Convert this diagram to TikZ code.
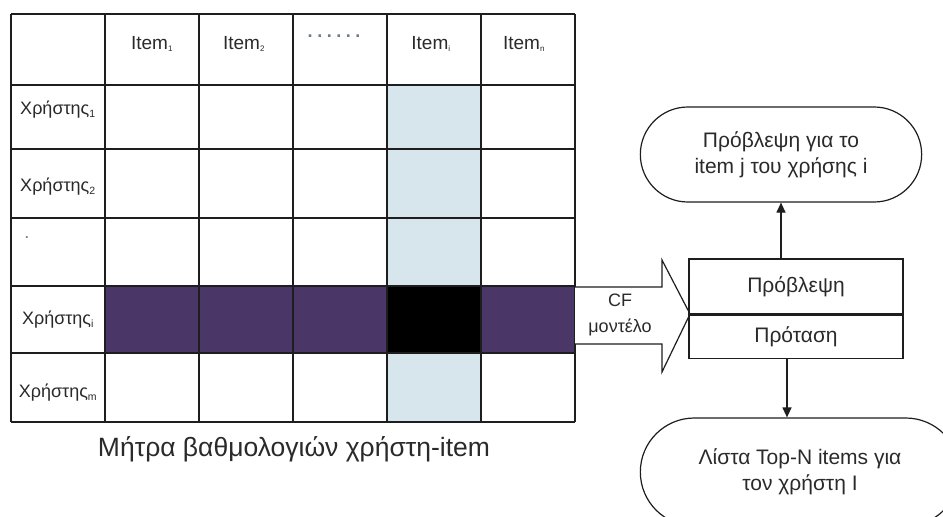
\documentclass[tikz,border=0pt]{standalone}
\usepackage{fontspec}
\setmainfont{Liberation Sans}
\usetikzlibrary{arrows.meta,shapes.misc}
\definecolor{gridc}{HTML}{1E1E1E}
\definecolor{purp}{HTML}{4A3768}
\definecolor{lblue}{HTML}{D7E5ED}
\definecolor{txt}{HTML}{2A2A2A}
\definecolor{dotc}{HTML}{6A7A90}
\tikzset{
  cellfont/.style={font=\fontsize{18}{20}\selectfont, text=txt, inner sep=0pt},
  itemfont/.style={font=\fontsize{19}{21}\selectfont, text=txt, inner sep=0pt},
  sidefont/.style={font=\fontsize{18}{26}\selectfont, text=txt, align=center},
  stadium/.style={draw=gridc, line width=1.2pt, rounded rectangle, align=center,
    font=\fontsize{21}{26}\selectfont, text=txt},
  boxpart/.style={draw=gridc, line width=1.2pt, minimum width=214pt, inner sep=0pt,
    font=\fontsize{21}{24}\selectfont, text=txt},
  conn/.style={draw=gridc, line width=1.2pt, -{Triangle[width=9pt,length=10pt]}},
  gridl/.style={draw=gridc, line width=1.4pt},
}
\newcommand{\tinysub}[1]{\textsubscript{\fontsize{8}{8}\selectfont #1}}
\newcommand{\usersub}[1]{\textsubscript{\fontsize{10.5}{10.5}\selectfont #1}}
\begin{document}
\begin{tikzpicture}[x=1pt,y=-1pt]
\useasboundingbox (0,0) rectangle (943,517);
\clip (0,0) rectangle (943,517);
\fill[white] (0,0) rectangle (943,517);
% fills
\fill[lblue] (387,85) rectangle (481,422);
\fill[purp] (105,286) rectangle (575,353);
\fill[black] (387,286) rectangle (481,353);
% grid
\foreach \x in {11,105,199,293,387,481,575} \draw[gridl] (\x,14) -- (\x,422);
\foreach \y in {14,85,149,218,286,353,422} \draw[gridl] (11,\y) -- (575,\y);
% header labels
\node[itemfont] (h1) at (152,44) {Item\tinysub{1}};
\node[itemfont] (h2) at (244,44) {Item\tinysub{2}};
\node[cellfont, text=dotc, font=\fontsize{18}{20}\selectfont\bfseries\addfontfeature{LetterSpace=25}] (hd) at (334,36) {......};
\node[itemfont] (hi) at (431,44) {Item\tinysub{i}};
\node[itemfont] (hn) at (524,44) {Item\tinysub{n}};
% row labels
\node[cellfont] (r1) at (58,110) {Χρήστης\usersub{1}};
\node[cellfont] (r2) at (58,187) {Χρήστης\usersub{2}};
\node[cellfont, text=dotc] (rd) at (27,238) {.};
\node[cellfont] (ri) at (58,320) {Χρήστης\usersub{i}};
\node[cellfont] (rm) at (58,393) {Χρήστης\usersub{m}};
% caption
\node[font=\fontsize{26.5}{30}\selectfont, text=txt] (cap) at (294,449) {Μήτρα βαθμολογιών χρήστη-item};
% block arrow
\draw[gridc, line width=1.2pt, fill=white] (575,287) -- (662,287) -- (662,260) -- (690,314) -- (662,372) -- (662,344) -- (575,344);
\node[sidefont] (cf) at (620,315) {CF\\μοντέλο};
% boxes
\node[boxpart, minimum height=55pt] (pred) at (796,286.5) {Πρόβλεψη};
\node[boxpart, minimum height=43pt, anchor=north] (prot) at (pred.south) {Πρόταση};
% stadiums
\node[stadium, minimum width=288pt, minimum height=95pt] (up) at (781,154.5) {Πρόβλεψη για το\\item j του χρήσης i};
\node[stadium, minimum width=326pt, minimum height=108pt, font=\fontsize{21}{26}\selectfont] (down) at (800,472) {Λίστα Top-N items για\\τον χρήστη I};
% connectors
\draw[conn] (pred.north -| up.south) -- (up.south);
\draw[conn] (prot.south -| 787,0) -- (down.north -| 787,0);
\end{tikzpicture}
\end{document}
